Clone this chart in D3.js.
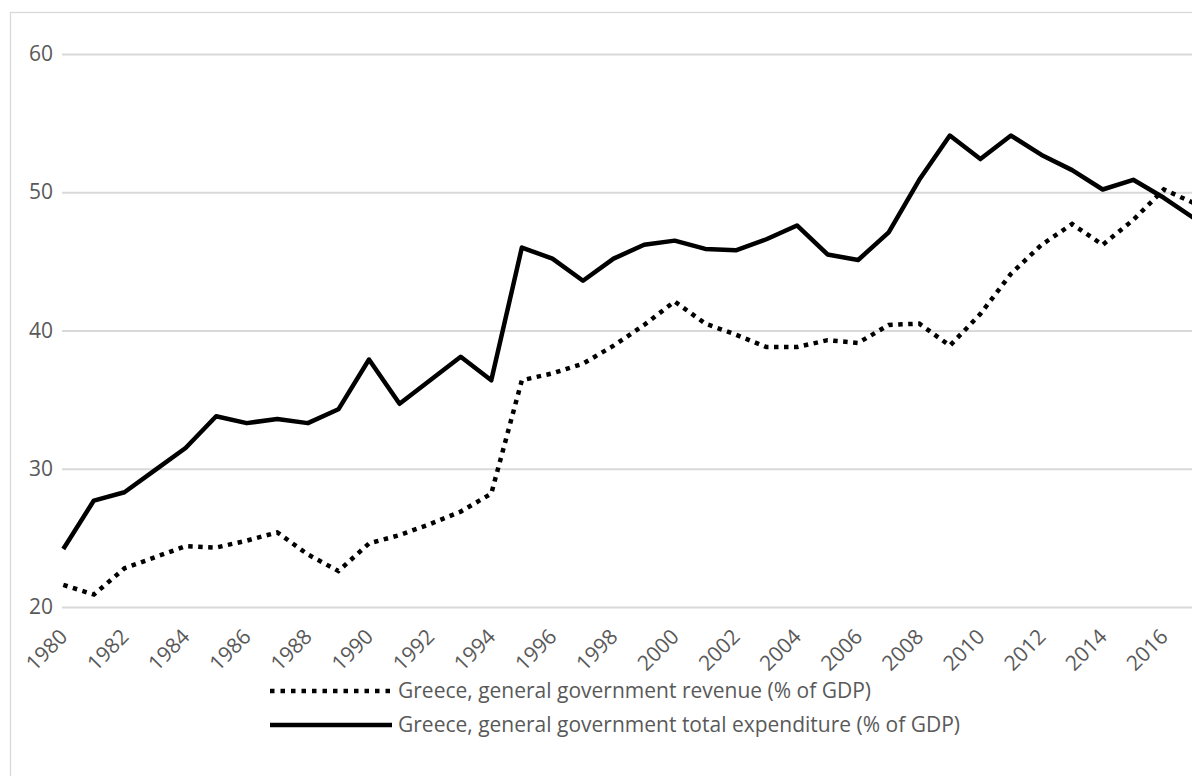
<!DOCTYPE html>
<html>
<head>
<meta charset="utf-8">
<script src="https://cdn.jsdelivr.net/npm/d3@7"></script>
<style>
  html, body { margin: 0; padding: 0; background: #fff; overflow: hidden; }
  text { font-family: "Open Sans", sans-serif; fill: #595959; }
</style>
</head>
<body>
<svg id="chart" width="1192" height="776"></svg>
<script>
// years on the category axis
const years = d3.range(1980, 2018);

// Greece, general government revenue (% of GDP)
const revenue = [
  21.6, 20.9, 22.8, 23.6, 24.4, 24.3, 24.8, 25.4, 23.8, 22.6,
  24.6, 25.2, 26.0, 26.9, 28.2, 36.4, 36.9, 37.6, 38.9, 40.4,
  42.1, 40.5, 39.7, 38.8, 38.8, 39.3, 39.1, 40.4, 40.5, 38.9,
  41.2, 44.1, 46.2, 47.7, 46.2, 48.0, 50.2, 49.2
];

// Greece, general government total expenditure (% of GDP)
const expenditure = [
  24.2, 27.7, 28.3, 29.9, 31.5, 33.8, 33.3, 33.6, 33.3, 34.3,
  37.9, 34.7, 36.4, 38.1, 36.4, 46.0, 45.2, 43.6, 45.2, 46.2,
  46.5, 45.9, 45.8, 46.6, 47.6, 45.5, 45.1, 47.1, 50.9, 54.1,
  52.4, 54.1, 52.7, 51.6, 50.2, 50.9, 49.6, 48.1
];

const yTicks = [20, 30, 40, 50, 60];
const xTicks = d3.range(1980, 2017, 2);

const seriesNames = [
  "Greece, general government revenue (% of GDP)",
  "Greece, general government total expenditure (% of GDP)"
];

const svg = d3.select("#chart");

// outer chart border (runs off the right/bottom edges)
svg.append("rect")
  .attr("x", 10.5).attr("y", 12.5)
  .attr("width", 1300).attr("height", 900)
  .attr("fill", "none")
  .attr("stroke", "#d9d9d9")
  .attr("stroke-width", 1.3);

const x = d3.scaleLinear().domain([1980, 2017]).range([63.3, 63.3 + 37 * 30.57]);
const y = d3.scaleLinear().domain([20, 60]).range([607, 54]);

// gridlines + y labels
const yAxis = d3.axisLeft(y).tickValues(yTicks).tickSize(0).tickPadding(9);
const gy = svg.append("g").attr("transform", "translate(62,0)").call(yAxis);
gy.select(".domain").remove();
gy.selectAll("text").style("font-size", "21px").attr("fill", "#595959");
gy.selectAll(".tick").append("line")
  .attr("x1", 0).attr("x2", 1300)
  .attr("stroke", "#d9d9d9").attr("stroke-width", 2);

// x labels, rotated
const xAxis = d3.axisBottom(x).tickValues(xTicks).tickSize(0).tickFormat(d3.format("d"));
const gx = svg.append("g").attr("transform", "translate(0,607)").call(xAxis);
gx.select(".domain").remove();
gx.selectAll("text")
  .style("font-size", "21px")
  .attr("fill", "#595959")
  .attr("text-anchor", "end")
  .attr("y", 0).attr("dy", 0)
  .attr("transform", "translate(5,31) rotate(-45)");

const line = d3.line()
  .x((d, i) => x(years[i]))
  .y(d => y(d));

svg.append("path")
  .datum(revenue)
  .attr("d", line)
  .attr("fill", "none")
  .attr("stroke", "#000")
  .attr("stroke-width", 4.5)
  .attr("stroke-dasharray", "4.5 5.5");

svg.append("path")
  .datum(expenditure)
  .attr("d", line)
  .attr("fill", "none")
  .attr("stroke", "#000")
  .attr("stroke-width", 4.5)
  .attr("stroke-linejoin", "round");

// legend
const legend = svg.append("g");
const legendRows = [
  { name: seriesNames[0], dash: "4.5 6", y: 691 },
  { name: seriesNames[1], dash: null, y: 725 }
];
legendRows.forEach(r => {
  legend.append("line")
    .attr("x1", 270).attr("x2", 392)
    .attr("y1", r.y).attr("y2", r.y)
    .attr("stroke", "#000")
    .attr("stroke-width", 4.5)
    .attr("stroke-dasharray", r.dash);
  legend.append("text")
    .attr("x", 398).attr("y", r.y)
    .attr("dy", "0.35em")
    .style("font-size", "21px")
    .text(r.name);
});
</script>
</body>
</html>
